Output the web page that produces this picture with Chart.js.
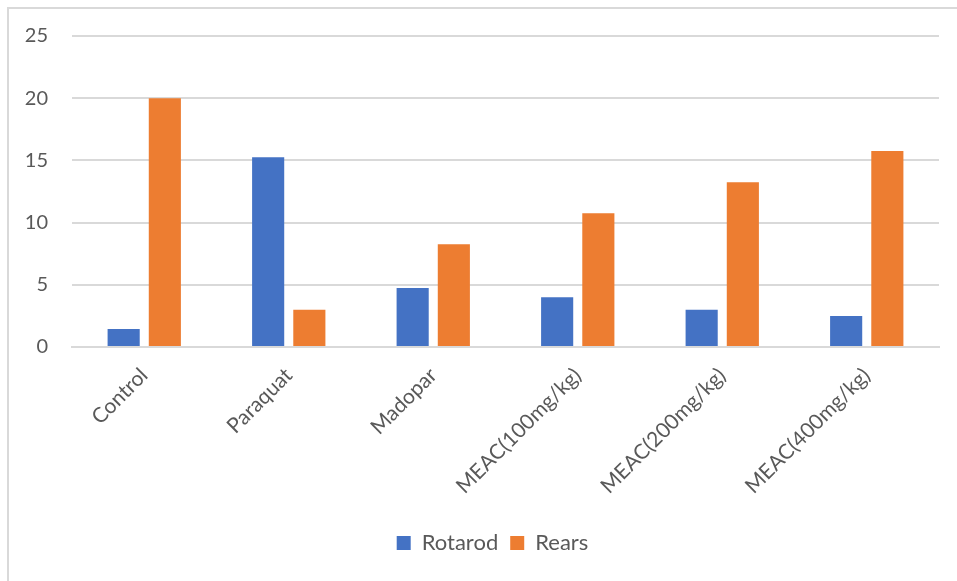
<!DOCTYPE html>
<html>
<head>
<meta charset="utf-8">
<script src="https://cdn.jsdelivr.net/npm/chart.js@4.4.0/dist/chart.umd.min.js"></script>
<style>
    html, body { margin: 0; padding: 0; background: #fff; overflow: hidden; }
    #frame {
        position: absolute; left: 7px; top: 7px;
        width: 980px; height: 600px;
        border: 2px solid #d9d9d9;
    }
    #wrap { position: absolute; left: 0; top: 0; width: 957px; height: 581px; }
</style>
</head>
<body>
<div id="frame"></div>
<div id="wrap"><canvas id="chart" width="957" height="581"></canvas></div>
<script>
const groups = ['Control', 'Paraquat', 'Madopar', 'MEAC(100mg/kg)', 'MEAC(200mg/kg)', 'MEAC(400mg/kg)'];
const rotarod = [1.45, 15.25, 4.75, 4, 3, 2.5];
const rears = [20, 3, 8.25, 10.75, 13.25, 15.75];

const textColor = '#595959';
const gridColor = '#d9d9d9';

// legend sits a bit right of the plot centre in the original
const shiftLegend = {
    id: 'shiftLegend',
    afterLayout(chart) {
        chart.legend.left += 23;
        chart.legend.right += 23;
    }
};

new Chart(document.getElementById('chart').getContext('2d'), {
    type: 'bar',
    data: {
        labels: groups,
        datasets: [
            { label: 'Rotarod', data: rotarod, backgroundColor: '#4472C4' },
            { label: 'Rears', data: rears, backgroundColor: '#ED7D31' }
        ]
    },
    options: {
        responsive: false,
        animation: false,
        datasets: { bar: { categoryPercentage: 0.57, barPercentage: 0.78 } },
        layout: { padding: { top: 31, right: 18, bottom: 17, left: 0 } },
        plugins: {
            legend: {
                position: 'bottom',
                labels: {
                    boxWidth: 14, boxHeight: 14, padding: 12,
                    color: textColor,
                    font: { family: 'Lato', size: 22 }
                }
            },
            tooltip: { enabled: false }
        },
        scales: {
            x: {
                grid: { display: false },
                border: { display: true, color: gridColor, width: 2 },
                ticks: {
                    color: textColor,
                    font: { family: 'Lato', size: 21 },
                    minRotation: 45, maxRotation: 45,
                    padding: 8
                },
                afterFit: scale => { scale.height = 173; }
            },
            y: {
                min: 0, max: 25,
                ticks: {
                    stepSize: 5,
                    color: textColor,
                    font: { family: 'Lato', size: 20 },
                    padding: 24
                },
                grid: { color: gridColor, lineWidth: 2, drawTicks: false },
                border: { display: false },
                afterFit: scale => { scale.width = 72; }
            }
        }
    },
    plugins: [shiftLegend]
});
</script>
</body>
</html>
